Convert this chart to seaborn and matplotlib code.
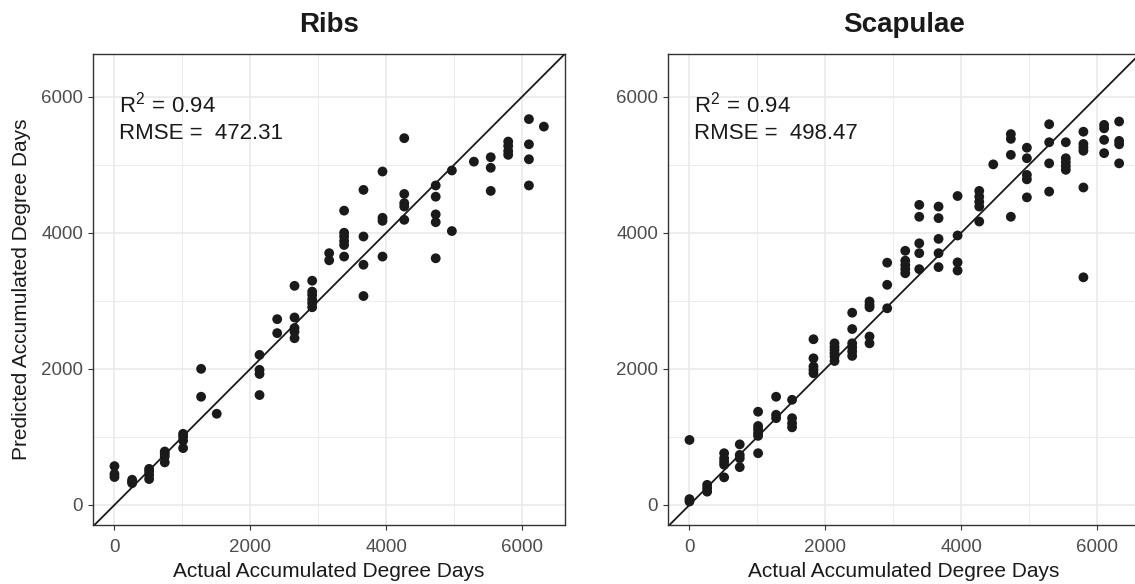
import matplotlib
matplotlib.use("Agg")
import matplotlib.pyplot as plt
from matplotlib.ticker import MultipleLocator
import seaborn as sns
import pandas as pd

# Ribs: actual vs predicted accumulated degree days
ribs_actual = (
    [0] * 3 + [260] * 3 + [510] * 4 + [740] * 4 + [1010] * 4 + [1275] * 2 + [1505]
    + [2135] * 4 + [2395] * 2 + [2650] * 5 + [2910] * 6 + [3160] * 2 + [3380] * 6
    + [3665] * 4 + [3945] * 4 + [4265] * 5 + [4728] * 5 + [4966] * 2 + [5290]
    + [5538] * 3 + [5795] * 4 + [6100] * 4 + [6320]
)
ribs_predicted = [
    570, 455, 410,
    370, 340, 320,
    530, 490, 440, 380,
    785, 750, 710, 625,
    1045, 1005, 945, 835,
    2000, 1590,
    1340,
    2205, 1985, 1925, 1615,
    2730, 2525,
    3220, 2755, 2600, 2545, 2450,
    3295, 3135, 3085, 3020, 2965, 2905,
    3700, 3595,
    4325, 4000, 3945, 3880, 3820, 3650,
    4630, 3945, 3530, 3070,
    4900, 4220, 4175, 3650,
    5390, 4570, 4435, 4385, 4190,
    4695, 4530, 4270, 4155, 3625,
    4915, 4025,
    5045,
    5110, 4955, 4615,
    5340, 5275, 5200, 5145,
    5670, 5300, 5080, 4695,
    5560,
]

# Scapulae: actual vs predicted accumulated degree days
scap_actual = (
    [0] * 3 + [260] * 3 + [510] * 5 + [740] * 4 + [1010] * 6 + [1275] * 3
    + [1510] * 4 + [1825] * 5 + [2135] * 6 + [2395] * 6 + [2650] * 5 + [2910] * 3
    + [3176] * 5 + [3382] * 5 + [3666] * 5 + [3946] * 4 + [4265] * 5 + [4471]
    + [4730] * 4 + [4966] * 5 + [5294] * 4 + [5539] * 5 + [5798] * 6 + [6103] * 4
    + [6324] * 4
)
scap_predicted = [
    955, 85, 50,
    295, 245, 195,
    760, 685, 635, 590, 405,
    890, 735, 685, 555,
    1370, 1160, 1110, 1055, 1015, 760,
    1590, 1325, 1275,
    1545, 1275, 1200, 1140,
    2435, 2155, 2035, 1985, 1935,
    2375, 2325, 2280, 2230, 2180, 2115,
    2825, 2585, 2375, 2315, 2255, 2190,
    2990, 2940, 2905, 2475, 2375,
    3560, 3235, 2890,
    3735, 3590, 3525, 3465, 3405,
    4410, 4235, 3845, 3700, 3465,
    4385, 4215, 3910, 3700, 3495,
    4540, 3960, 3565, 3445,
    4615, 4530, 4455, 4385, 4165,
    5005,
    5450, 5380, 5145, 4235,
    5250, 5095, 4850, 4785, 4520,
    5595, 5330, 5020, 4605,
    5330, 5095, 5035, 4980, 4925,
    5485, 5305, 5255, 5205, 4665, 3345,
    5585, 5535, 5365, 5170,
    5635, 5350, 5300, 5020,
]

panel_titles = ["Ribs", "Scapulae"]
r2_values = ["0.94", "0.94"]
rmse_values = ["472.31", "498.47"]

sns.set_theme(style="whitegrid")
plt.rcParams["font.family"] = ["Liberation Sans", "DejaVu Sans"]
plt.rcParams["mathtext.fontset"] = "custom"
plt.rcParams["mathtext.rm"] = "Liberation Sans"
plt.rcParams["mathtext.it"] = "Liberation Sans:italic"

W, H = 1135, 584
fig = plt.figure(figsize=(W / 100, H / 100), dpi=100)
fig.patch.set_facecolor("white")

ax_w, ax_h = 472 / W, 471 / H
bottom = (H - 525) / H
axes = [
    fig.add_axes([93 / W, bottom, ax_w, ax_h]),
    fig.add_axes([668 / W, bottom, ax_w, ax_h]),
]

frames = [
    pd.DataFrame({"actual": ribs_actual, "predicted": ribs_predicted}),
    pd.DataFrame({"actual": scap_actual, "predicted": scap_predicted}),
]

for i, (ax, df) in enumerate(zip(axes, frames)):
    ax.set_facecolor("white")
    ax.set_xlim(-316, 6631)
    ax.set_ylim(-295, 6627)
    ax.xaxis.set_major_locator(MultipleLocator(2000))
    ax.yaxis.set_major_locator(MultipleLocator(2000))
    ax.xaxis.set_minor_locator(MultipleLocator(1000))
    ax.yaxis.set_minor_locator(MultipleLocator(1000))
    ax.grid(which="major", color="#e8e8e8", linewidth=1.1)
    ax.grid(which="minor", color="#ececec", linewidth=0.7)
    ax.set_axisbelow(True)

    sns.scatterplot(data=df, x="actual", y="predicted", ax=ax, color="#1a1a1a",
                    s=50, edgecolor="none", linewidth=0, zorder=3)
    ax.axline((0, 0), slope=1, color="#1a1a1a", linewidth=1.3, zorder=4)

    for sp in ax.spines.values():
        sp.set_color("#333333")
        sp.set_linewidth(1.0)
        sp.set_visible(True)

    ax.tick_params(which="major", direction="out", length=3.6, width=0.8,
                   color="#333333", labelcolor="#4d4d4d", labelsize=13.5, pad=3.5,
                   bottom=True, left=True)
    ax.tick_params(axis="x", which="major", pad=6.5)
    ax.tick_params(which="minor", length=0)

    ax.set_title(panel_titles[i], fontsize=20, fontweight="bold", color="#1a1a1a", pad=16)
    ax.set_xlabel("Actual Accumulated Degree Days", fontsize=15, color="#1a1a1a", labelpad=4)
    if i == 0:
        ax.set_ylabel("Predicted Accumulated Degree Days", fontsize=15, color="#1a1a1a", labelpad=7)
    else:
        ax.set_ylabel("")

    ax.text(60, 5765, "R$^{2}$$\\,=\\,$" + r2_values[i], fontsize=16, color="#1a1a1a",
            ha="left", va="baseline")
    ax.text(60, 5378, "RMSE =  " + rmse_values[i], fontsize=16, color="#1a1a1a",
            ha="left", va="baseline")

fig.savefig("out.png", dpi=100, facecolor="white")
